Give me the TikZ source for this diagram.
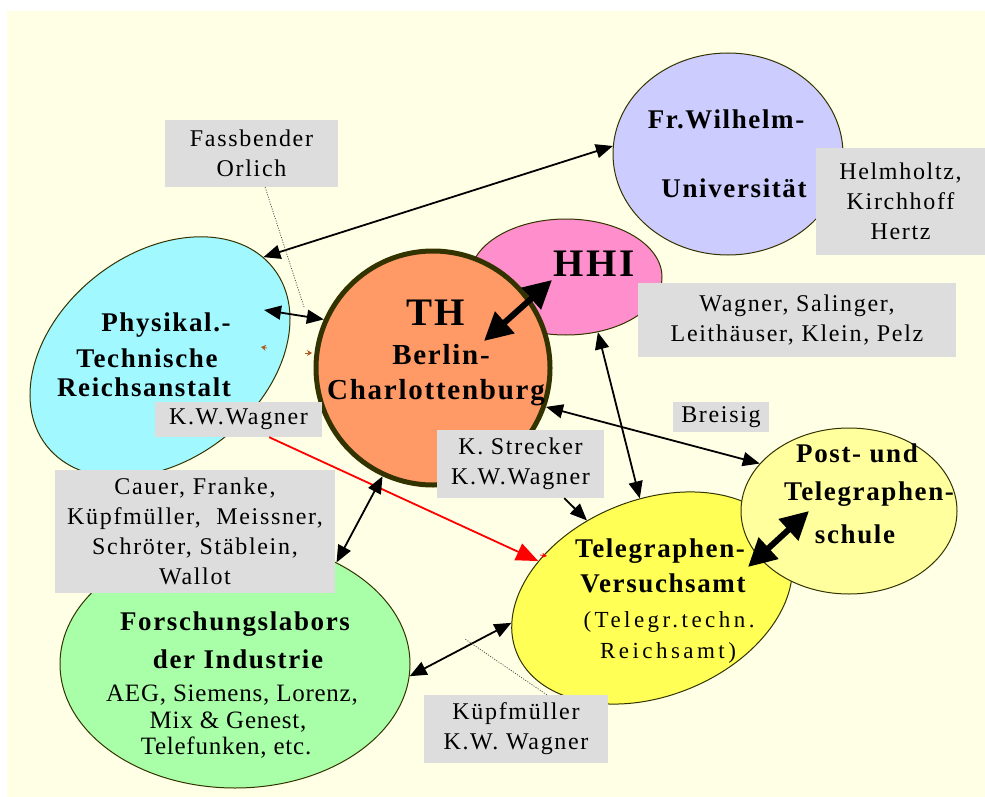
\documentclass[tikz,border=0pt]{standalone}
\usepackage{fontspec}
\setmainfont{Liberation Serif}
\newfontfamily\boxfont[LetterSpace=7]{Liberation Serif}
\newfontfamily\lblfont[LetterSpace=6]{Liberation Serif}
\newfontfamily\subfont[LetterSpace=3]{Liberation Serif}
\newfontfamily\widefont[LetterSpace=15]{Liberation Serif}
\usetikzlibrary{shapes.geometric,arrows.meta}
\definecolor{cream}{HTML}{FFFFE6}
\definecolor{boxgray}{HTML}{DDDDDD}
\definecolor{cfwu}{HTML}{CCCCFF}
\definecolor{chhi}{HTML}{FF8ECC}
\definecolor{cth}{HTML}{FF9966}
\definecolor{thbord}{HTML}{333300}
\definecolor{cptr}{HTML}{A2F8FF}
\definecolor{cfil}{HTML}{A8FFA8}
\definecolor{ctva}{HTML}{FFFF55}
\definecolor{cpts}{HTML}{FFFF9E}
\definecolor{outl}{HTML}{333300}
\definecolor{brn}{HTML}{B05A1A}
\begin{document}
\begin{tikzpicture}[x=1pt,y=-1pt,
  shp/.style={ellipse, draw=outl, line width=1pt, inner sep=0pt},
  gbox/.style={fill=boxgray, inner sep=0pt, align=center, font=\boxfont\fontsize{24}{30}\selectfont},
  big/.style={inner sep=0pt, font=\lblfont\bfseries\fontsize{27}{30}\selectfont, text height=18pt, text depth=0pt},
  bigger/.style={inner sep=0pt, font=\lblfont\bfseries\fontsize{29}{30}\selectfont, text height=19pt, text depth=0pt},
  huge/.style={inner sep=0pt, font=\lblfont\bfseries\fontsize{39}{40}\selectfont, text height=26pt, text depth=0pt},
  sub/.style={inner sep=0pt, font=\subfont\fontsize{25}{28}\selectfont, text height=16pt, text depth=0pt},
  wide/.style={inner sep=0pt, font=\widefont\fontsize{23}{28}\selectfont, text height=16pt, text depth=0pt},
  con/.style={line width=1.8pt, {Triangle[length=17pt,width=14pt]}-{Triangle[length=17pt,width=14pt]}},
  fat/.style={line width=6pt, {Triangle[length=28pt,width=28pt]}-{Triangle[length=28pt,width=28pt]}},
  dots/.style={line width=0.8pt, draw=black!70, dash pattern=on 1pt off 1.5pt}]
\useasboundingbox (0,0) rectangle (985,797);
\fill[cream] (7,11) rectangle (985,797);
% shapes
\node[shp, fill=cfwu, minimum width=230pt, minimum height=202pt] (fwu) at (728,154) {};
\node[shp, fill=chhi, minimum width=192pt, minimum height=116pt] (hhi) at (566,277) {};
\node[circle, draw=thbord, line width=5pt, fill=cth, minimum size=234pt, inner sep=0pt] (th) at (433,368) {};
\node[shp, fill=cptr, minimum width=288pt, minimum height=206pt, rotate=38] (ptr) at (160,357) {};
\node[shp, fill=cfil, minimum width=350pt, minimum height=248pt] (fil) at (235,664) {};
\node[shp, fill=ctva, minimum width=292pt, minimum height=196pt, rotate=22] (tva) at (652,598) {};
\node[shp, fill=cpts, minimum width=216pt, minimum height=166pt] (pts) at (849,511) {};
% grey boxes
\node[gbox, minimum width=173pt, minimum height=67pt] (fo) at (251.5,153.5) {Fassbender\\Orlich};
\node[gbox, minimum width=169pt, minimum height=107pt] (hk) at (900.5,201.5) {Helmholtz,\\Kirchhoff\\Hertz};
\node[gbox, minimum width=318pt, minimum height=74pt] (ws) at (797,320) {Wagner, Salinger,\\Leithäuser, Klein, Pelz};
\node[gbox, minimum width=167pt, minimum height=35pt] (kw) at (238.5,419.5) {K.W.Wagner};
\node[gbox, minimum width=96pt, minimum height=30pt] (br) at (721,417) {Breisig};
\node[gbox, minimum width=167pt, minimum height=68pt] (ks) at (520.5,464) {K. Strecker\\K.W.Wagner};
\node[gbox, minimum width=280pt, minimum height=123pt] (ca) at (195,531.5) {Cauer, Franke,\\Küpfmüller,\ \ Meissner,\\Schröter, Stäblein,\\Wallot};
\node[gbox, minimum width=184pt, minimum height=68pt] (kk) at (516,729) {Küpfmüller\\K.W. Wagner};
% free ends
\coordinate (ptrin) at (264,310);
\coordinate (hhiin) at (552,280);
\coordinate (thin1) at (484,341);
\coordinate (ptsin) at (809,511);
\coordinate (tvain) at (748,567);
\coordinate (dotA) at (304,307);
\coordinate (dotB) at (465,639);
\coordinate (b1s) at (267,348);
\coordinate (b1e) at (261,347);
\coordinate (b2s) at (305,353);
\coordinate (b2e) at (312,353);
\coordinate (r2s) at (540,555);
\coordinate (r2e) at (547,556);
% connectors
\draw[con] (fwu.176) -- (ptr.6);
\draw[con] (ptrin) -- (th.156);
\draw[fat] (thin1) -- (hhiin);
\draw[con] (hhi.-60) -- (tva.75.4);
\draw[con] (th.-19) -- (pts.152);
\draw[line width=1.8pt, -{Triangle[length=17pt,width=14pt]}] (ks.-38.7) -- (tva.108.1);
\draw[red, line width=1.8pt, -{Triangle[length=22pt,width=18pt]}] (kw.-30.7) -- (tva.140.3);
\draw[red, line width=0.8pt, -{Stealth[length=5pt,width=5pt]}] (r2s) -- (r2e);
\draw[con] (th.-115) -- (fil.45.8);
\draw[fat] (tvain) -- (ptsin);
\draw[con] (tva.168.8) -- (fil.-4);
\draw[dots] (fo.-68) -- (dotA);
\draw[dots] (kk.48.6) -- (dotB);
\draw[brn, line width=0.8pt, -{Stealth[length=5pt,width=6pt]}] (b1s) -- (b1e);
\draw[brn, line width=0.8pt, -{Stealth[length=5pt,width=6pt]}] (b2s) -- (b2e);
% labels
\node[big] (fwu1) at (726,120) {Fr.Wilhelm-};
\node[big] (fwu2) at (734,188) {Universität};
\node[huge] (hhit) at (594,263) {HHI};
\node[huge] (th1) at (436,312) {TH};
\node[bigger] (th2) at (441,355) {Berlin-};
\node[bigger] (th3) at (436,390) {Charlottenburg};
\node[big] (ptr1) at (166,322) {Physikal.-};
\node[big] (ptr2) at (147,358) {Technische};
\node[big] (ptr3) at (144,387) {Reichsanstalt};
\node[big] (fil1) at (235,621) {Forschungslabors};
\node[big] (fil2) at (238,659) {der Industrie};
\node[sub] (fil3) at (232,693) {AEG, Siemens, Lorenz,};
\node[sub] (fil4) at (228,720) {Mix \& Genest,};
\node[sub] (fil5) at (226,746) {Telefunken, etc.};
\node[big] (tva1) at (660,548) {Telegraphen-};
\node[big] (tva2) at (663,583) {Versuchsamt};
\node[wide] (tva3) at (669,619) {(Telegr.techn.};
\node[wide] (tva4) at (668,650) {Reichsamt)};
\node[big] (pts1) at (857,453) {Post- und};
\node[big] (pts2) at (869,491) {Telegraphen-};
\node[big] (pts3) at (855,534) {schule};
\end{tikzpicture}
\end{document}
